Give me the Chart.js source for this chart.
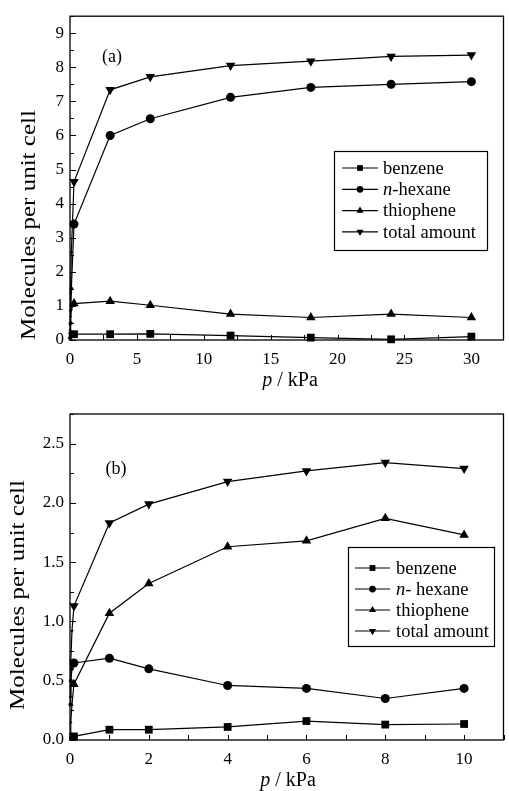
<!DOCTYPE html>
<html>
<head>
<meta charset="utf-8">
<script src="https://cdn.jsdelivr.net/npm/chart.js@4/dist/chart.umd.min.js"></script>
<style>
  body { margin: 0; background: #fff; }
  canvas { position: absolute; left: 0; }
</style>
</head>
<body>
<canvas id="chartA" width="509" height="390" style="top:0"></canvas>
<canvas id="chartB" width="509" height="401" style="top:390px"></canvas>
<script>
// (a) pressure in kPa
const pressureA = [0.01, 0.03, 0.05, 0.1, 0.3, 3, 6, 12, 18, 24, 30];
const benzeneA = [0.10, 0.15, 0.17, 0.17, 0.17, 0.17, 0.18, 0.13, 0.07, 0.02, 0.10];
const hexaneA = [0.05, 0.2, 0.5, 1.5, 3.4, 6.0, 6.49, 7.12, 7.41, 7.50, 7.58];
const thiopheneA = [0.3, 0.5, 0.7, 0.9, 1.07, 1.14, 1.02, 0.76, 0.66, 0.76, 0.66];
const totalA = [0.45, 0.85, 1.37, 2.57, 4.64, 7.34, 7.72, 8.05, 8.18, 8.32, 8.36];
const labelsA = ['benzene', 'n-hexane', 'thiophene', 'total amount'];

// (b)
const pressureB = [0.01, 0.02, 0.05, 0.1, 1, 2, 4, 6, 8, 10];
const benzeneB = [0.01, 0.02, 0.02, 0.03, 0.087, 0.087, 0.11, 0.16, 0.13, 0.135];
const hexaneB = [0.3, 0.5, 0.6, 0.65, 0.69, 0.60, 0.46, 0.435, 0.35, 0.435];
const thiopheneB = [0.05, 0.15, 0.3, 0.47, 1.07, 1.32, 1.63, 1.68, 1.87, 1.73];
const totalB = [0.36, 0.67, 0.92, 1.13, 1.83, 1.99, 2.18, 2.27, 2.34, 2.29];
const labelsB = ['benzene', 'n- hexane', 'thiophene', 'total amount'];

const serif = '"Liberation Serif", "DejaVu Serif", serif';
const markers = [
  { pointStyle: 'rect', radius: 5.5, rotation: 0 },
  { pointStyle: 'circle', radius: 4.5, rotation: 0 },
  { pointStyle: 'triangle', radius: 5.5, rotation: 0 },
  { pointStyle: 'triangle', radius: 5.5, rotation: 180 }
];

// points below `lowP` sit on the y axis and only show up as small blobs
function makeData(xs, series, labels, lowP) {
  return {
    datasets: series.map(function(ys, i) {
      return {
        label: labels[i],
        data: xs.map(function(x, j) { return { x: x, y: ys[j] }; }),
        borderColor: '#000',
        backgroundColor: '#000',
        borderWidth: 1.2,
        pointStyle: markers[i].pointStyle,
        pointRotation: markers[i].rotation,
        pointRadius: function(c) { return c.raw && c.raw.x < lowP ? 2 : markers[i].radius; },
        pointBorderWidth: 0,
        tension: 0,
        clip: false
      };
    })
  };
}

// italic "n" prefix for hexane labels
function drawLabel(ctx, text, x, y, size) {
  if (text.charAt(0) === 'n' && text.charAt(1) === '-') {
    ctx.font = 'italic ' + size + 'px ' + serif;
    ctx.fillText('n', x, y);
    const w = ctx.measureText('n').width;
    ctx.font = size + 'px ' + serif;
    ctx.fillText(text.slice(1), x + w, y);
  } else {
    ctx.font = size + 'px ' + serif;
    ctx.fillText(text, x, y);
  }
}

const decor = {
  id: 'decor',
  afterDraw(chart, args, o) {
    const ctx = chart.ctx, a = chart.chartArea;
    const xs = chart.scales.x, ys = chart.scales.y;
    ctx.save();
    ctx.strokeStyle = '#000';
    ctx.fillStyle = '#000';
    ctx.lineWidth = 1.3;
    ctx.strokeRect(a.left, a.top, a.right - a.left, a.bottom - a.top);

    // inward tick marks
    ctx.lineWidth = 1;
    ctx.beginPath();
    for (let v = 0; v <= xs.max + 1e-9; v += o.xMinor) {
      const px = Math.round(xs.getPixelForValue(v)) + 0.5;
      ctx.moveTo(px, a.bottom); ctx.lineTo(px, a.bottom - 5);
    }
    for (let v = 0; v <= ys.max + 1e-9; v += o.yMinor) {
      const py = Math.round(ys.getPixelForValue(v)) + 0.5;
      const major = Math.abs(v / o.yMajor - Math.round(v / o.yMajor)) < 1e-6;
      ctx.moveTo(a.left, py); ctx.lineTo(a.left + (major ? 6 : 4), py);
    }
    ctx.stroke();

    ctx.textBaseline = 'middle';
    // panel label
    ctx.textAlign = 'center';
    ctx.font = o.panelSize + 'px ' + serif;
    ctx.fillText(o.panel, o.panelX, o.panelY);

    // x title
    ctx.font = 'italic ' + o.titleSize + 'px ' + serif;
    const w1 = ctx.measureText('p').width;
    ctx.font = o.titleSize + 'px ' + serif;
    const w2 = ctx.measureText(' / kPa').width;
    ctx.textAlign = 'left';
    let tx = o.xTitleX - (w1 + w2) / 2;
    ctx.font = 'italic ' + o.titleSize + 'px ' + serif;
    ctx.fillText('p', tx, o.xTitleY);
    ctx.font = o.titleSize + 'px ' + serif;
    ctx.fillText(' / kPa', tx + w1, o.xTitleY);

    // y title, stretched along its length like the original figure
    ctx.save();
    ctx.translate(o.yTitleX, o.yTitleY);
    ctx.rotate(-Math.PI / 2);
    ctx.scale(o.yStretch, 1);
    ctx.textAlign = 'center';
    ctx.font = o.titleSize + 'px ' + serif;
    ctx.fillText('Molecules per unit cell', 0, 0);
    ctx.restore();

    // legend
    const L = o.legend;
    ctx.lineWidth = 1.2;
    ctx.strokeRect(L.x1 + 0.5, L.y1 + 0.5, L.x2 - L.x1, L.y2 - L.y1);
    chart.data.datasets.forEach(function(ds, i) {
      const y = L.row0 + i * L.step;
      ctx.beginPath();
      ctx.moveTo(L.lx1, y); ctx.lineTo(L.lx2, y);
      ctx.stroke();
      const m = markers[i];
      Chart.helpers.drawPoint(ctx, { pointStyle: m.pointStyle, rotation: m.rotation, radius: m.radius * 0.75, borderWidth: 0 }, (L.lx1 + L.lx2) / 2, y);
      ctx.textAlign = 'left';
      drawLabel(ctx, ds.label, L.tx, y + 1, L.size);
    });
    ctx.restore();
  }
};

function makeOptions(xMax, xStep, yMax, yStep, yWidth, xHeight, pad, fmt) {
  return {
    responsive: false,
    animation: false,
    devicePixelRatio: 1,
    layout: { padding: pad },
    plugins: { legend: { display: false }, tooltip: { enabled: false } },
    scales: {
      x: {
        type: 'linear', min: 0, max: xMax,
        grid: { display: false, drawTicks: false },
        border: { display: false },
        ticks: { stepSize: xStep, includeBounds: false, padding: 9, color: '#000', maxRotation: 0,
                 font: { family: serif, size: 17 } },
        afterFit: function(s) { s.height = xHeight; }
      },
      y: {
        type: 'linear', min: 0, max: yMax,
        grid: { display: false, drawTicks: false },
        border: { display: false },
        ticks: { stepSize: yStep, includeBounds: false, padding: 6, color: '#000',
                 font: { family: serif, size: 17 }, callback: fmt },
        afterFit: function(s) { s.width = yWidth; }
      }
    }
  };
}

const optsA = makeOptions(32.4, 5, 9.5, 1, 70, 50, { top: 14, right: 2, left: 0, bottom: 0 },
  function(v) { return String(v); });
optsA.plugins.decor = {
  xMinor: 2.5, yMajor: 1, yMinor: 0.5,
  panel: '(a)', panelX: 112, panelY: 57, panelSize: 18,
  titleSize: 20, yStretch: 1.25, xTitleX: 290, xTitleY: 381, yTitleX: 30, yTitleY: 225,
  legend: { x1: 334, y1: 151, x2: 487, y2: 250, row0: 168, step: 21.3, lx1: 342, lx2: 378, tx: 383, size: 18.5 }
};
new Chart(document.getElementById('chartA'), {
  type: 'line',
  data: makeData(pressureA, [benzeneA, hexaneA, thiopheneA, totalA], labelsA, 0.2),
  options: optsA,
  plugins: [decor]
});

const optsB = makeOptions(11, 2, 2.75, 0.5, 70, 51, { top: 24, right: 1, left: 0, bottom: 0 },
  function(v) { return v.toFixed(1); });
optsB.plugins.decor = {
  xMinor: 1, yMajor: 0.5, yMinor: 0.25,
  panel: '(b)', panelX: 116, panelY: 79, panelSize: 18,
  titleSize: 20, yStretch: 1.25, xTitleX: 288, xTitleY: 391, yTitleX: 19, yTitleY: 205,
  legend: { x1: 348, y1: 157, x2: 494, y2: 256, row0: 178, step: 21, lx1: 355, lx2: 390, tx: 396, size: 18.5 }
};
new Chart(document.getElementById('chartB'), {
  type: 'line',
  data: makeData(pressureB, [benzeneB, hexaneB, thiopheneB, totalB], labelsB, 0.08),
  options: optsB,
  plugins: [decor]
});
</script>
</body>
</html>
